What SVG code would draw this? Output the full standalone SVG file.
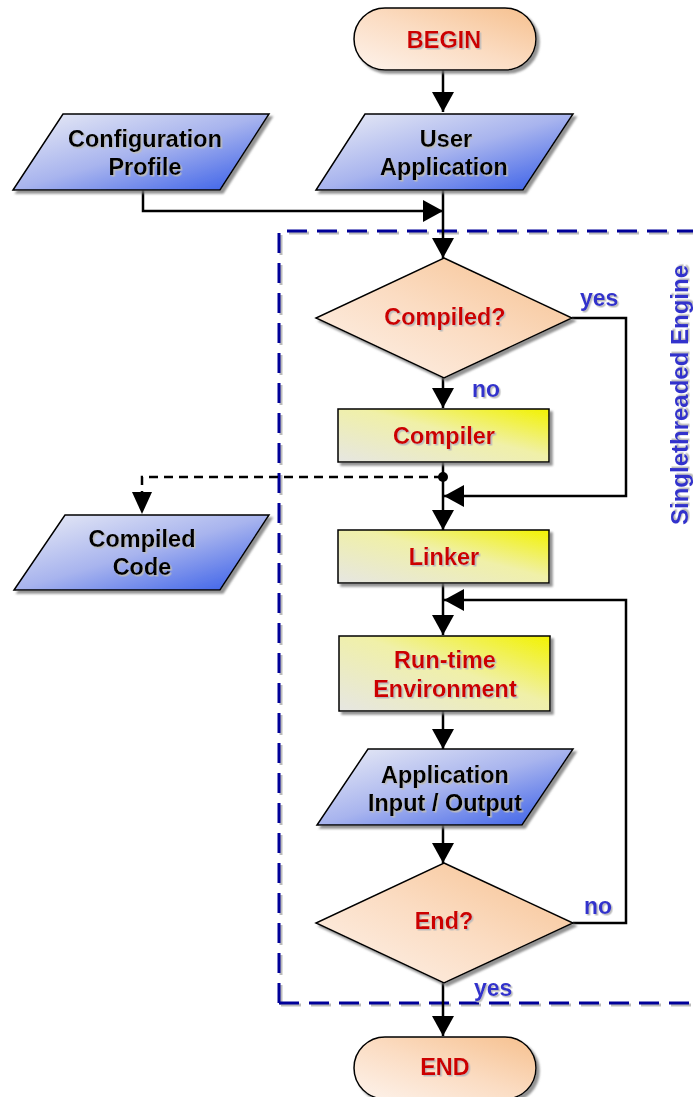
<svg xmlns="http://www.w3.org/2000/svg" width="693" height="1097" viewBox="0 0 693 1097">
<defs>
<linearGradient id="gOrange" x1="0" y1="1" x2="1" y2="0">
<stop offset="0" stop-color="#fdf3ec"/><stop offset="0.5" stop-color="#fbdcc2"/><stop offset="1" stop-color="#f6c08e"/>
</linearGradient>
<linearGradient id="gBlue" x1="0" y1="0" x2="1" y2="1">
<stop offset="0" stop-color="#eceef6"/><stop offset="0.5" stop-color="#a8b4ee"/><stop offset="1" stop-color="#3058e8"/>
</linearGradient>
<linearGradient id="gYellow" x1="0" y1="1" x2="1" y2="0">
<stop offset="0" stop-color="#e6e6e2"/><stop offset="0.55" stop-color="#f0f0a8"/><stop offset="1" stop-color="#f2f200"/>
</linearGradient>
<filter id="sh" x="-10%" y="-10%" width="130%" height="130%">
<feDropShadow dx="3" dy="3" stdDeviation="0.8" flood-color="#777" flood-opacity="0.8"/>
</filter>
<filter id="tsh" x="-10%" y="-20%" width="130%" height="150%">
<feDropShadow dx="1.5" dy="1.5" stdDeviation="0.3" flood-color="#bbb" flood-opacity="1"/>
</filter>
<marker id="arr" viewBox="0 0 20 22" refX="20" refY="11" markerWidth="20" markerHeight="22" markerUnits="userSpaceOnUse" orient="auto">
<path d="M0,0 L20,11 L0,22 Z" fill="#000"/>
</marker>
</defs>
<style>
.shape{stroke:#000;stroke-width:1.5;filter:url(#sh)}
.t{font-family:"Liberation Sans",Arial,sans-serif;font-weight:bold;font-size:23.5px;text-anchor:middle;filter:url(#tsh)}
.red{fill:#cc0000}
.blk{fill:#000}
.lbl{font-family:"Liberation Sans",Arial,sans-serif;font-weight:bold;font-size:23px;fill:#3333cc;filter:url(#tsh)}
.ln{fill:none;stroke:#000;stroke-width:2.5}
.dash{fill:none;stroke:#000;stroke-width:2.5;stroke-dasharray:9,6}
</style>

<g id="engine-boundary">
<path d="M279,1003 V231 H700" fill="none" stroke="#bbb" stroke-width="3" stroke-dasharray="20,10" transform="translate(2,2)"/>
<path d="M279,1003 V231 H700" fill="none" stroke="#000099" stroke-width="3" stroke-dasharray="20,10"/>
<path d="M279,1003 H700" fill="none" stroke="#bbb" stroke-width="3" stroke-dasharray="20,10" transform="translate(2,2)"/>
<path d="M279,1003 H700" fill="none" stroke="#000099" stroke-width="3" stroke-dasharray="20,10"/>
<text class="lbl" style="font-size:24px" transform="translate(688,395) rotate(-90)" text-anchor="middle">Singlethreaded Engine</text>
</g>

<g id="connectors">
<path class="ln" d="M443,70 V112" marker-end="url(#arr)"/>
<path class="ln" d="M143,190 V211 H443" marker-end="url(#arr)"/>
<path class="ln" d="M443,190 V258" marker-end="url(#arr)"/>
<path class="ln" d="M443,378 V408" marker-end="url(#arr)"/>
<path class="ln" d="M572,318 H626 V496 H444" marker-end="url(#arr)"/>
<path class="ln" d="M443,462 V530" marker-end="url(#arr)"/>
<circle cx="443" cy="477" r="5" fill="#000"/>
<path class="dash" d="M443,477 H142 V493"/>
<path d="M132,492 L152,492 L142,514 Z" fill="#000"/>
<path class="ln" d="M443,583 V635" marker-end="url(#arr)"/>
<path class="ln" d="M573,923 H626 V600 H444" marker-end="url(#arr)"/>
<path class="ln" d="M443,711 V749" marker-end="url(#arr)"/>
<path class="ln" d="M443,825 V863" marker-end="url(#arr)"/>
<path class="ln" d="M443,983 V1036" marker-end="url(#arr)"/>
<text class="lbl" x="580" y="306">yes</text>
<text class="lbl" x="472" y="397">no</text>
<text class="lbl" x="584" y="914">no</text>
<text class="lbl" x="474" y="996">yes</text>
</g>

<g id="begin">
<rect class="shape" x="354" y="8" width="182" height="62" rx="31" fill="url(#gOrange)"/>
<text class="t red" x="444" y="48">BEGIN</text>
</g>

<g id="config-profile">
<polygon class="shape" points="63,114 269,114 220,190 13,190" fill="url(#gBlue)"/>
<text class="t blk" x="145" y="147">Configuration</text>
<text class="t blk" x="145" y="175">Profile</text>
</g>

<g id="user-application">
<polygon class="shape" points="365,114 573,114 523,190 316,190" fill="url(#gBlue)"/>
<text class="t blk" x="446" y="147">User</text>
<text class="t blk" x="444" y="175">Application</text>
</g>

<g id="compiled-decision">
<polygon class="shape" points="444,258 572,318 444,378 316,318" fill="url(#gOrange)"/>
<text class="t red" x="445" y="325">Compiled?</text>
</g>

<g id="compiler">
<rect class="shape" x="338" y="409" width="211" height="53" fill="url(#gYellow)"/>
<text class="t red" x="444" y="444">Compiler</text>
</g>

<g id="compiled-code">
<polygon class="shape" points="65,515 269,515 220,590 14,590" fill="url(#gBlue)"/>
<text class="t blk" x="142" y="547">Compiled</text>
<text class="t blk" x="142" y="575">Code</text>
</g>

<g id="linker">
<rect class="shape" x="338" y="530" width="211" height="53" fill="url(#gYellow)"/>
<text class="t red" x="444" y="565">Linker</text>
</g>

<g id="runtime">
<rect class="shape" x="339" y="636" width="211" height="75" fill="url(#gYellow)"/>
<text class="t red" x="445" y="668">Run-time</text>
<text class="t red" x="445" y="697">Environment</text>
</g>

<g id="app-io">
<polygon class="shape" points="368,749 573,749 522,825 317,825" fill="url(#gBlue)"/>
<text class="t blk" x="445" y="783">Application</text>
<text class="t blk" x="445" y="811">Input / Output</text>
</g>

<g id="end-decision">
<polygon class="shape" points="444,863 573,923 444,983 316,923" fill="url(#gOrange)"/>
<text class="t red" x="444" y="929">End?</text>
</g>

<g id="end">
<rect class="shape" x="354" y="1037" width="182" height="62" rx="31" fill="url(#gOrange)"/>
<text class="t red" x="445" y="1075">END</text>
</g>
</svg>
